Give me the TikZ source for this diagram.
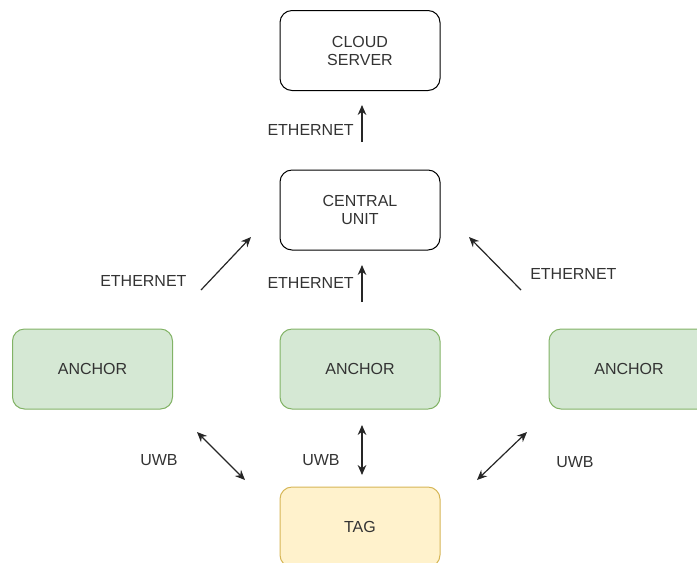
\documentclass[tikz,border=0pt]{standalone}
\usepackage{fontspec}
\setmainfont{Liberation Sans}
\usepackage{xcolor}
\usetikzlibrary{positioning,arrows.meta}

\definecolor{anchorfill}{HTML}{D5E8D4}
\definecolor{anchorline}{HTML}{82B366}
\definecolor{tagfill}{HTML}{FFF2CC}
\definecolor{tagline}{HTML}{D6B656}
\definecolor{txt}{HTML}{333333}

\begin{document}
\begin{tikzpicture}[
  x=0.75pt, y=-0.75pt,
  unit/.style={draw, rounded corners=9pt, minimum height=60pt, minimum width=120pt,
               align=center, font=\fontsize{12}{13.5}\selectfont, text=txt, line width=0.75pt},
  anchorbox/.style={unit, fill=anchorfill, draw=anchorline},
  tagbox/.style={unit, fill=tagfill, draw=tagline},
  link/.style={-{Stealth[length=7.5pt,width=6.5pt]}, line width=0.9pt, draw=black!85},
  uwb/.style={{Stealth[length=7.5pt,width=6.5pt]}-{Stealth[length=7.5pt,width=6.5pt]}, line width=0.9pt, draw=black!85},
  note/.style={font=\fontsize{12}{13.5}\selectfont, text=txt, inner sep=0pt}
]
\clip (0,0) rectangle (697,562);

% servers
\node[unit] (cloud) at (360,50.5) {CLOUD\\SERVER};
\node[unit] (central) at (360,210) {CENTRAL\\UNIT};

% anchors and tag
\node[anchorbox] (anc1) at (92.5,369) {ANCHOR};
\node[anchorbox] (anc2) at (360,369) {ANCHOR};
\node[anchorbox] (anc3) at (629,369) {ANCHOR};
\node[tagbox] (tag) at (360,527) {TAG};

% arrow ends
\coordinate (c0) at (362,142); \coordinate (c1) at (362,105);
\coordinate (l0) at (201,290); \coordinate (l1) at (251,237);
\coordinate (m0) at (362,302); \coordinate (m1) at (362,265);
\coordinate (r0) at (521,290); \coordinate (r1) at (469,237);
\coordinate (u1a) at (197,432); \coordinate (u1b) at (245,480);
\coordinate (u2a) at (362,425); \coordinate (u2b) at (362,475);
\coordinate (u3a) at (527,432); \coordinate (u3b) at (477,480);

\draw[link] (c0) -- (c1);
\draw[link] (l0) -- (l1);
\draw[link] (m0) -- (m1);
\draw[link] (r0) -- (r1);
\draw[uwb] (u1a) -- (u1b);
\draw[uwb] (u2a) -- (u2b);
\draw[uwb] (u3a) -- (u3b);

% labels
\node[note, anchor=east] (e0) at (354,130) {ETHERNET};
\node[note, anchor=west] (e1) at (100,281) {ETHERNET};
\node[note, anchor=east] (e2) at (354,283) {ETHERNET};
\node[note, anchor=west] (e3) at (530,274) {ETHERNET};
\node[note, anchor=west] (w1) at (140,460) {UWB};
\node[note, anchor=west] (w2) at (302,460) {UWB};
\node[note, anchor=west] (w3) at (556,462) {UWB};
\end{tikzpicture}
\end{document}
